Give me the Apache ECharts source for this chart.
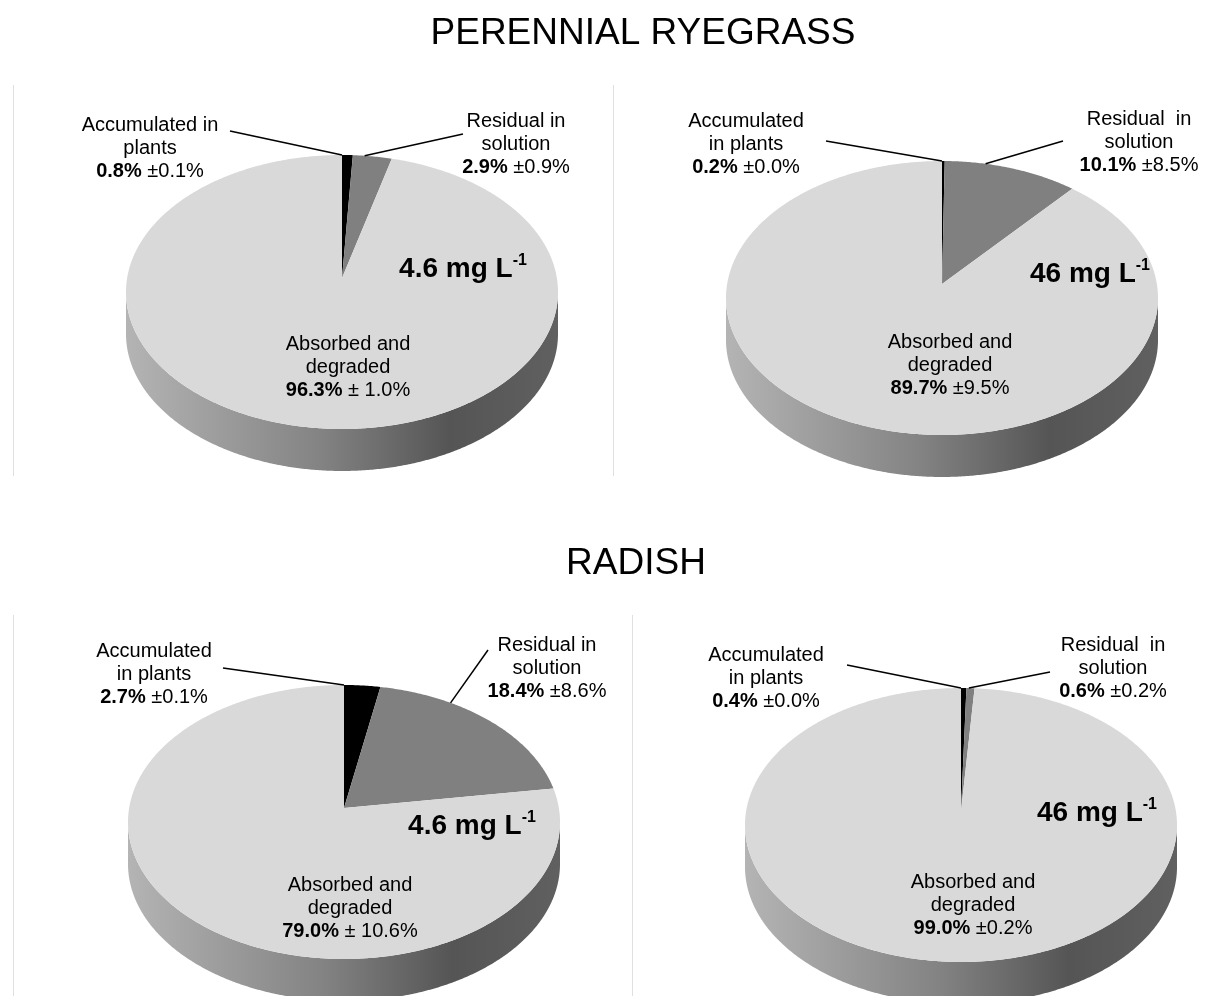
<!DOCTYPE html>
<html>
<head>
<meta charset="utf-8">
<script src="https://cdn.jsdelivr.net/npm/echarts@6/dist/echarts.min.js"></script>
<style>
  html, body { margin: 0; padding: 0; background: #fff; }
  #main { width: 1205px; height: 996px; }
</style>
</head>
<body>
<div id="main"></div>
<script>
// ---- data ----
var plantNames = ['PERENNIAL RYEGRASS', 'RADISH'];
var concentrations = ['4.6', '46', '4.6', '46'];   // panel order: TL, TR, BL, BR
var accumulated   = [0.8, 0.2, 2.7, 0.4];
var accumulatedSd = [0.1, 0.0, 0.1, 0.0];
var residual      = [2.9, 10.1, 18.4, 0.6];
var residualSd    = [0.9, 8.5, 8.6, 0.2];
var absorbed      = [96.3, 89.7, 79.0, 99.0];
var absorbedSd    = [1.0, 9.5, 10.6, 0.2];
var accNames = ['Accumulated in\nplants', 'Accumulated\nin plants', 'Accumulated\nin plants', 'Accumulated\nin plants'];
var resNames = ['Residual in\nsolution', 'Residual  in\nsolution', 'Residual in\nsolution', 'Residual  in\nsolution'];
var absNames = ['Absorbed and\ndegraded', 'Absorbed and\ndegraded', 'Absorbed and\ndegraded', 'Absorbed and\ndegraded'];

// ---- layout ----
var FONT = '"Liberation Sans", Arial, sans-serif';
var RX = 216, RY = 137, DEPTH = 42, APEX_UP = 14;
var SLICE_COLORS = ['#000000', '#808080', '#d9d9d9'];
var LEADER_AT = [0, 0.3];
var panels = [
  {cx: 342, cy: 292, lab: [[150, 125], [516, 121], [348, 344]], anchor: [[230, 131], [463, 134]], conc: [463, 269], pmGap: ' '},
  {cx: 942, cy: 298, lab: [[746, 121], [1139, 119], [950, 342]], anchor: [[826, 141], [1063, 141]], conc: [1090, 274], pmGap: ''},
  {cx: 344, cy: 822, lab: [[154, 651], [547, 645], [350, 885]], anchor: [[223, 668], [488, 650]], conc: [472, 826], pmGap: ' '},
  {cx: 961, cy: 825, lab: [[766, 655], [1113, 645], [973, 882]], anchor: [[847, 665], [1050, 672]], conc: [1097, 813], pmGap: ''}
];

function rim(p, a, dy) {
  return [p.cx + RX * Math.sin(a), p.cy - RY * Math.cos(a) + (dy || 0)];
}

function arcPoints(p, a1, a2, dy) {
  var pts = [];
  var n = Math.max(2, Math.ceil((a2 - a1) / (Math.PI / 360)));
  for (var i = 0; i <= n; i++) {
    pts.push(rim(p, a1 + (a2 - a1) * i / n, dy));
  }
  return pts;
}

function valueText(v, sd, gap) {
  return '{b|' + v.toFixed(1) + '%} ±' + gap + sd.toFixed(1) + '%';
}

function makeSeries(k) {
  var p = panels[k];
  var values = [accumulated[k], residual[k], absorbed[k]];
  var sds = [accumulatedSd[k], residualSd[k], absorbedSd[k]];
  var names = [accNames[k], resNames[k], absNames[k]];
  var total = values[0] + values[1] + values[2];

  return {
    type: 'custom',
    coordinateSystem: 'none',
    silent: true,
    animation: false,
    data: values,
    renderItem: function (params, api) {
      var i = params.dataIndex;
      var before = 0;
      for (var j = 0; j < i; j++) before += values[j];
      var a1 = before / total * Math.PI * 2;
      var a2 = (before + api.value(0)) / total * Math.PI * 2;
      var children = [];

      // front wall of the slice
      var lo = Math.max(a1, Math.PI / 2), hi = Math.min(a2, Math.PI * 1.5);
      if (hi > lo) {
        var wall = arcPoints(p, lo, hi, 0).concat(arcPoints(p, lo, hi, DEPTH).reverse());
        children.push({
          type: 'polygon',
          z2: 0,
          shape: {points: wall},
          style: {
            fill: i === 2 ? new echarts.graphic.LinearGradient(0, 0, 1, 0, [
              {offset: 0, color: '#b4b4b4'},
              {offset: 0.45, color: '#838383'},
              {offset: 0.75, color: '#555555'},
              {offset: 1, color: '#606060'}
            ]) : '#404040'
          }
        });
      }

      // top face
      var apex = [p.cx, p.cy - APEX_UP];
      children.push({
        type: 'polygon',
        z2: 1,
        shape: {points: [apex].concat(arcPoints(p, a1, a2, 0))},
        style: {fill: SLICE_COLORS[i]}
      });

      // label
      var lp = p.lab[i];
      children.push({
        type: 'text',
        z2: 3,
        x: lp[0],
        y: lp[1] - 11.5,
        style: {
          text: names[i] + '\n' + valueText(api.value(0), sds[i], i === 2 ? p.pmGap : ''),
          fill: '#000',
          fontFamily: FONT,
          fontSize: 20,
          lineHeight: 23,
          align: 'center',
          verticalAlign: 'top',
          rich: {
            b: {fontFamily: FONT, fontSize: 20, fontWeight: 'bold', lineHeight: 23}
          }
        }
      });

      // leader line
      if (i < 2) {
        var end = rim(p, a1 + (a2 - a1) * LEADER_AT[i], 0);
        children.push({
          type: 'polyline',
          z2: 2,
          shape: {points: [p.anchor[i], end]},
          style: {stroke: '#000', lineWidth: 1.5, fill: null}
        });
      }

      return {type: 'group', children: children};
    }
  };
}

var graphics = [
  {type: 'text', x: 643, y: 34, style: {text: plantNames[0], font: '37px ' + FONT, fill: '#000', align: 'center', verticalAlign: 'middle'}},
  {type: 'text', x: 636, y: 564, style: {text: plantNames[1], font: '37px ' + FONT, fill: '#000', align: 'center', verticalAlign: 'middle'}},
  {type: 'line', shape: {x1: 13.5, y1: 85, x2: 13.5, y2: 476}, style: {stroke: '#e0e0e0', lineWidth: 1}},
  {type: 'line', shape: {x1: 613.5, y1: 85, x2: 613.5, y2: 476}, style: {stroke: '#e0e0e0', lineWidth: 1}},
  {type: 'line', shape: {x1: 13.5, y1: 615, x2: 13.5, y2: 996}, style: {stroke: '#e0e0e0', lineWidth: 1}},
  {type: 'line', shape: {x1: 632.5, y1: 615, x2: 632.5, y2: 996}, style: {stroke: '#e0e0e0', lineWidth: 1}}
];
panels.forEach(function (p, k) {
  graphics.push({
    type: 'text',
    x: p.conc[0],
    y: p.conc[1],
    z: 10,
    style: {
      text: '{c|' + concentrations[k] + ' mg L}{s|-1}',
      align: 'center',
      verticalAlign: 'middle',
      fill: '#000',
      rich: {
        c: {fontFamily: FONT, fontSize: 28, fontWeight: 'bold', lineHeight: 32},
        s: {fontFamily: FONT, fontSize: 16, fontWeight: 'bold', lineHeight: 17, verticalAlign: 'top'}
      }
    }
  });
});

var chart = echarts.init(document.getElementById('main'), null, {renderer: 'canvas'});
chart.setOption({
  backgroundColor: '#fff',
  animation: false,
  graphic: graphics,
  series: [makeSeries(0), makeSeries(1), makeSeries(2), makeSeries(3)]
});
</script>
</body>
</html>
